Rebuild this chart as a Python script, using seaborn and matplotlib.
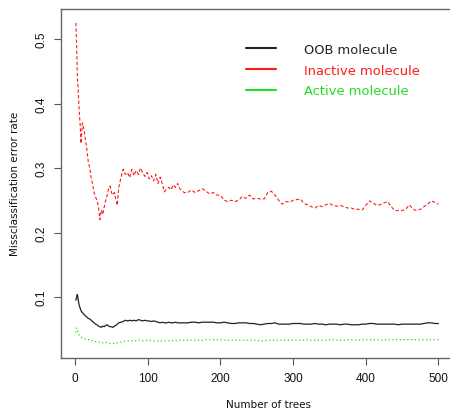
import numpy as np
import seaborn as sns
import matplotlib
matplotlib.use("Agg")
import matplotlib.pyplot as plt
from matplotlib.lines import Line2D

trees = list(range(1, 11)) + list(range(12, 61, 2)) + list(range(63, 151, 3)) + list(range(155, 501, 5))

oob = [0.095, 0.100, 0.104, 0.097, 0.090, 0.086, 0.082, 0.079, 0.077, 0.076,
       0.073, 0.071, 0.069, 0.067, 0.066, 0.064, 0.062, 0.060, 0.058, 0.057,
       0.055, 0.054, 0.053, 0.055, 0.054, 0.056, 0.057, 0.055, 0.054, 0.054,
       0.053, 0.055, 0.056, 0.058, 0.060,
       0.061, 0.062, 0.064, 0.063, 0.064, 0.063, 0.064, 0.063, 0.065, 0.064,
       0.063, 0.064, 0.063, 0.063, 0.062, 0.063, 0.062, 0.061, 0.060, 0.061,
       0.060, 0.060, 0.061, 0.060, 0.060, 0.061, 0.060, 0.060, 0.060, 0.060,
       0.060, 0.061, 0.061, 0.060, 0.061, 0.061, 0.061, 0.061, 0.060, 0.060,
       0.061, 0.060, 0.059, 0.059, 0.060, 0.060, 0.060, 0.059, 0.059, 0.058,
       0.057, 0.058, 0.059, 0.059, 0.060, 0.058, 0.058, 0.058, 0.058, 0.059,
       0.059, 0.059, 0.058, 0.058, 0.058, 0.059, 0.058, 0.058, 0.057, 0.058,
       0.058, 0.058, 0.057, 0.058, 0.058, 0.057, 0.057, 0.057, 0.058, 0.058,
       0.059, 0.059, 0.058, 0.058, 0.058, 0.058, 0.058, 0.058, 0.057, 0.058,
       0.058, 0.058, 0.058, 0.058, 0.058, 0.059, 0.060, 0.060, 0.059, 0.059]

inactive = [0.525, 0.490, 0.440, 0.425, 0.400, 0.380, 0.365, 0.338, 0.355, 0.370,
            0.360, 0.345, 0.330, 0.310, 0.300, 0.285, 0.275, 0.262, 0.255, 0.250,
            0.240, 0.220, 0.235, 0.228, 0.240, 0.250, 0.258, 0.268, 0.272, 0.262,
            0.258, 0.262, 0.252, 0.242, 0.270,
            0.285, 0.298, 0.290, 0.293, 0.285, 0.298, 0.288, 0.296, 0.290, 0.300,
            0.292, 0.287, 0.293, 0.283, 0.288, 0.280, 0.290, 0.276, 0.286, 0.275,
            0.263, 0.268, 0.270, 0.266, 0.274, 0.270, 0.276, 0.268, 0.265, 0.262,
            0.262, 0.266, 0.262, 0.265, 0.268, 0.264, 0.260, 0.262, 0.258, 0.258,
            0.250, 0.248, 0.250, 0.248, 0.250, 0.256, 0.253, 0.258, 0.252, 0.253,
            0.252, 0.252, 0.262, 0.264, 0.258, 0.250, 0.244, 0.248, 0.247, 0.250,
            0.251, 0.252, 0.245, 0.243, 0.240, 0.238, 0.242, 0.240, 0.243, 0.245,
            0.242, 0.241, 0.242, 0.240, 0.238, 0.238, 0.236, 0.236, 0.235, 0.242,
            0.249, 0.246, 0.242, 0.243, 0.246, 0.248, 0.240, 0.234, 0.234, 0.234,
            0.236, 0.243, 0.236, 0.234, 0.236, 0.240, 0.244, 0.249, 0.247, 0.244]

active = [0.045, 0.052, 0.049, 0.046, 0.042, 0.040, 0.039, 0.038, 0.037, 0.036,
          0.035, 0.035, 0.034, 0.034, 0.033, 0.033, 0.032, 0.032, 0.031, 0.031,
          0.030, 0.030, 0.030, 0.029, 0.030, 0.030, 0.029, 0.029, 0.028, 0.028,
          0.028, 0.028, 0.029, 0.029, 0.030,
          0.030, 0.031, 0.032, 0.032, 0.032, 0.032, 0.033, 0.032, 0.033, 0.033,
          0.032, 0.032, 0.033, 0.033, 0.032, 0.032, 0.032, 0.032, 0.032, 0.032,
          0.032, 0.032, 0.032, 0.033, 0.032, 0.032, 0.033, 0.033, 0.033, 0.033,
          0.033, 0.033, 0.033, 0.033, 0.033, 0.034, 0.034, 0.034, 0.034, 0.034,
          0.033, 0.033, 0.033, 0.033, 0.033, 0.033, 0.033, 0.033, 0.033, 0.033,
          0.032, 0.032, 0.033, 0.033, 0.033, 0.033, 0.033, 0.033, 0.033, 0.033,
          0.033, 0.033, 0.033, 0.034, 0.033, 0.033, 0.033, 0.033, 0.033, 0.034,
          0.034, 0.033, 0.033, 0.033, 0.034, 0.034, 0.033, 0.033, 0.034, 0.034,
          0.034, 0.034, 0.034, 0.033, 0.033, 0.034, 0.034, 0.034, 0.034, 0.034,
          0.034, 0.034, 0.034, 0.034, 0.034, 0.034, 0.034, 0.034, 0.034, 0.034]

labels = ["OOB molecule", "Inactive molecule", "Active molecule"]
colors = ["#222222", "#ff1a1a", "#22dd22"]

sns.set_style("ticks")
plt.rcParams['font.family'] = ['Liberation Sans', 'DejaVu Sans']

fig = plt.figure(figsize=(4.5, 4.14), dpi=100)
ax = fig.add_axes([61 / 450, 55 / 414, (453 - 61) / 450, (404 - 55) / 414])

sns.lineplot(x=trees, y=oob, ax=ax, color=colors[0], lw=0.9)
sns.lineplot(x=trees, y=inactive, ax=ax, color=colors[1], lw=0.8)
ax.lines[-1].set_dashes((3, 2))
sns.lineplot(x=trees, y=active, ax=ax, color=colors[2], lw=0.9)
ax.lines[-1].set_dashes((1, 2))

ax.set_xlim(-19.5, 520)
ax.set_ylim(0.0055, 0.5465)
ax.set_xticks([0, 100, 200, 300, 400, 500])
ax.set_yticks([0.1, 0.2, 0.3, 0.4, 0.5])
ax.set_yticklabels(["0.1", "0.2", "0.3", "0.4", "0.5"], rotation=90, va="center")
ax.tick_params(axis="both", direction="out", length=5, width=0.8, color="#555555",
               labelsize=8.5, labelcolor="#111111", pad=5)
for side in ["left", "bottom", "top"]:
    ax.spines[side].set_color("#666666")
    ax.spines[side].set_linewidth(1.0)
ax.spines["right"].set_visible(False)

ax.set_xlabel("")
ax.set_ylabel("")
fig.text(269 / 450, 1 - 405 / 414, "Number of trees", ha="center", va="center",
         fontsize=7.5, family="DejaVu Sans", color="#111111")
fig.text(15 / 450, 1 - 184 / 414, "Missclassification error rate", ha="center", va="center",
         rotation=90, fontsize=7.5, family="DejaVu Sans", color="#111111")

handles = [Line2D([0], [0], color=c, lw=1.5) for c in colors]
leg = ax.legend(handles, labels, loc="upper left", bbox_to_anchor=(0.443, 0.937),
                frameon=False, handlelength=2.3, handletextpad=2.1, labelspacing=0.6,
                prop={"family": "DejaVu Sans", "size": 9.4})
for t, c in zip(leg.get_texts(), colors):
    t.set_color(c)

fig.savefig("out.png", dpi=100)
